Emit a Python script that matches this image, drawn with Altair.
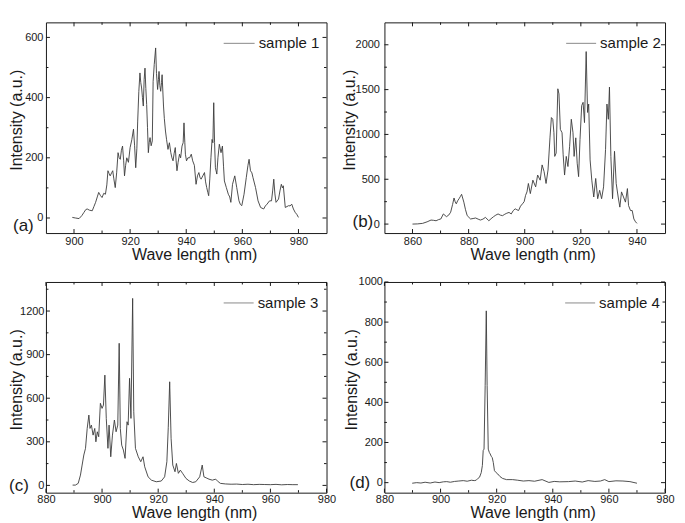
import altair as alt
import pandas as pd

# ---------------- data ----------------
wl1 = [
    899.4, 900.5, 901.8, 902.8, 903.5, 904.2, 904.7, 905.5, 906.5, 907.1,
    907.7, 908.3, 908.8, 909.4, 910.0, 910.6, 911.2, 911.7, 912.1, 912.5,
    912.9, 913.4, 913.8, 914.2, 914.7, 915.2, 915.7, 916.1, 916.5, 916.9,
    917.3, 917.7, 918.0, 918.4, 918.8, 919.4, 920.0, 920.6, 921.2, 921.6,
    922.0, 922.4, 922.7, 923.1, 923.5, 923.8, 924.1, 924.4, 924.7, 925.0,
    925.3, 925.6, 925.9, 926.2, 926.5, 926.8, 927.1, 927.5, 927.9, 928.2,
    928.6, 929.1, 929.4, 929.8, 930.1, 930.3, 930.6, 930.9, 931.2, 931.4,
    931.9, 932.2, 932.6, 933.0, 933.5, 934.0, 934.5, 934.9, 935.3, 935.7,
    936.1, 936.4, 936.7, 937.1, 937.6, 938.0, 938.5, 938.9, 939.2, 939.5,
    939.7, 940.1, 940.6, 941.2, 941.8, 942.3, 942.9, 943.5, 944.0, 944.5,
    944.9, 945.3, 945.9, 946.5, 946.9, 947.3, 947.7, 948.0, 948.4, 948.8,
    949.2, 949.5, 949.8, 950.1, 950.4, 950.9, 951.3, 951.8, 952.4, 952.9,
    953.3, 953.6, 954.3, 955.0, 955.5, 955.9, 956.5, 957.3, 958.0, 958.8,
    959.3, 959.8, 960.6, 961.4, 962.0, 962.4, 962.9, 963.4, 963.8, 964.7,
    965.6, 966.5, 967.6, 968.2, 968.8, 969.7, 970.4, 970.8, 971.2, 971.6,
    972.0, 972.9, 973.4, 973.9, 974.3, 974.6, 975.3, 976.5, 977.0, 977.6,
    978.2, 978.8, 979.4, 980.0]
int1 = [
    2, 0, -2, 8, 18, 28, 30, 26, 24, 38,
    52, 70, 85, 75, 68, 82, 79, 110, 157, 148,
    140, 150, 157, 130, 101, 150, 217, 200, 195, 225,
    239, 190, 140, 175, 200, 185, 234, 260, 295, 240,
    167, 230, 322, 420, 482, 450, 432, 400, 372, 460,
    498, 430, 377, 300, 217, 250, 267, 240, 256, 454,
    510, 565, 480, 427, 460, 487, 440, 421, 450, 476,
    372, 330, 289, 260, 228, 250, 217, 200, 190, 215,
    234, 190, 157, 185, 212, 200, 239, 250, 316, 250,
    212, 190, 200, 200, 212, 190, 175, 112, 140, 151,
    135, 129, 140, 151, 120, 101, 85, 74, 130, 200,
    261, 250, 383, 250, 167, 146, 200, 245, 217, 239,
    170, 123, 101, 79, 70, 52, 112, 140, 101, 57,
    45, 41, 79, 134, 175, 195, 157, 150, 134, 101,
    57, 35, 30, 40, 46, 57, 57, 90, 129, 80,
    52, 63, 90, 112, 100, 107, 35, 41, 40, 46,
    30, 19, 12, 2]

wl2 = [
    860.0, 861.8, 863.6, 865.2, 866.6, 867.5, 868.4, 869.3, 870.1, 871.0,
    872.1, 872.9, 873.6, 874.3, 874.8, 875.2, 875.6, 876.1, 876.6, 877.1,
    877.5, 878.3, 878.9, 879.5, 880.7, 881.6, 882.5, 883.4, 884.2, 885.1,
    886.0, 887.2, 888.0, 888.9, 889.7, 890.5, 891.3, 892.1, 892.9, 893.6,
    894.4, 895.2, 895.9, 896.6, 897.2, 897.8, 898.5, 899.2, 899.8, 900.3,
    900.8, 901.3, 902.0, 902.9, 903.9, 904.6, 905.5, 906.2, 906.9, 907.6,
    908.3, 909.0, 909.5, 910.0, 910.4, 910.7, 911.2, 911.8, 912.2, 912.7,
    913.3, 913.7, 914.2, 914.8, 915.4, 916.0, 916.6, 917.2, 917.6, 918.2,
    918.7, 919.2, 919.7, 920.3, 920.8, 921.3, 921.9, 922.4, 922.8, 923.3,
    923.9, 924.6, 925.3, 926.0, 926.7, 927.4, 928.1, 928.8, 929.3, 929.8,
    930.2, 930.7, 931.3, 932.0, 932.6, 933.3, 933.9, 934.5, 935.2, 935.9,
    936.6, 937.0, 937.7, 938.3, 938.9, 939.5, 940.0]
int2 = [
    0, 2, 8, 25, 45, 42, 37, 50, 57, 113,
    83, 100, 132, 220, 291, 250, 226, 260, 283, 310,
    332, 245, 160, 94, 57, 62, 68, 55, 45, 55,
    75, 37, 60, 83, 100, 113, 100, 94, 110, 121,
    130, 113, 150, 170, 160, 151, 200, 226, 250, 320,
    359, 453, 340, 490, 415, 547, 490, 660, 585, 453,
    603, 962, 1188, 1169, 1019, 755, 792, 1509, 1452, 1056,
    1019, 773, 547, 755, 642, 868, 1169, 1019, 755, 962,
    679, 529, 943, 1321, 1358, 1132, 1924, 1245, 1339, 716,
    490, 302, 509, 283, 377, 283, 415, 830, 1339, 1169,
    1528, 755, 283, 812, 453, 302, 189, 359, 302, 245,
    396, 207, 151, 151, 57, 25, 8]

wl3 = [
    889.5, 890.5, 891.5, 892.3, 892.9, 893.5, 894.1, 894.7, 895.3, 895.7,
    896.2, 896.8, 897.4, 897.8, 898.3, 898.8, 899.4, 900.0, 900.5, 901.0,
    901.5, 902.1, 902.5, 903.1, 903.7, 904.4, 905.0, 905.6, 906.1, 906.5,
    907.0, 907.6, 908.2, 908.9, 909.3, 909.8, 910.3, 910.9, 911.3, 911.9,
    912.9, 913.8, 914.6, 915.2, 916.4, 917.6, 919.3, 921.1, 922.3, 923.1,
    923.6, 924.1, 924.6, 925.2, 926.0, 926.5, 927.2, 927.9, 928.7, 929.9,
    931.1, 932.3, 933.4, 934.8, 935.7, 936.3, 937.1, 938.1, 939.3, 940.5,
    941.4, 942.2, 944.0, 946.0, 948.0, 950.0, 952.0, 954.0, 956.0, 958.0,
    960.0, 962.0, 964.0, 966.0, 968.0, 969.8]
int3 = [
    2, 2, 14, 71, 140, 209, 255, 392, 484, 392,
    415, 346, 392, 300, 369, 335, 565, 530, 553, 759,
    461, 255, 415, 197, 346, 450, 369, 415, 978, 392,
    277, 243, 186, 438, 415, 737, 461, 1287, 507, 255,
    197, 163, 197, 128, 59, 36, 25, 30, 59, 163,
    400, 713, 324, 140, 94, 151, 83, 105, 83, 48,
    30, 20, 25, 59, 140, 59, 52, 43, 36, 43,
    25, 14, 10, 8, 9, 6, 8, 5, 7, 6,
    5, 7, 4, 6, 5, 5]

wl4 = [
    889.9, 891.5, 893.0, 894.5, 896.3, 898.0, 899.5, 901.0, 902.2, 903.5,
    905.0, 906.5, 908.1, 909.5, 911.0, 912.0, 912.7, 913.4, 913.9, 914.5,
    914.9, 915.2, 915.5, 915.9, 916.3, 916.6, 917.0, 917.4, 917.7, 918.1,
    918.4, 918.8, 919.2, 919.8, 920.4, 921.2, 922.1, 923.5, 925.7, 927.5,
    929.5, 931.5, 933.5, 936.2, 938.6, 940.5, 942.5, 945.6, 948.0, 950.5,
    952.6, 955.0, 957.0, 958.5, 960.0, 962.5, 965.0, 967.5, 970.0]
int4 = [
    -3, 0, -2, 2, -2, 3, 0, 4, 5, 2,
    6, 8, 10, 7, 12, 10, 12, 22, 27, 50,
    85, 160, 167, 483, 856, 483, 167, 150, 143, 130,
    126, 100, 60, 50, 43, 30, 21, 15, 15, 12,
    8, 10, 7, 15, 1, 6, 4, 5, 8, 3,
    10, 6, 8, 15, 5, 9, 8, 5, -3]

samples = ["sample 1", "sample 2", "sample 3", "sample 4"]
tags = ["(a)", "(b)", "(c)", "(d)"]

x_domains = [[890, 990], [850, 950], [880, 980], [880, 980]]
y_domains = [[-50, 650], [-100, 2250], [-50, 1400], [-50, 1000]]
x_major = [[900, 920, 940, 960, 980], [860, 880, 900, 920, 940],
           [880, 900, 920, 940, 960, 980], [880, 900, 920, 940, 960, 980]]
x_minor = [[910, 930, 950, 970], [870, 890, 910, 930],
           [890, 910, 930, 950, 970], [890, 910, 930, 950, 970]]
y_major = [[0, 200, 400, 600], [0, 500, 1000, 1500, 2000],
           [0, 300, 600, 900, 1200], [0, 200, 400, 600, 800, 1000]]
y_minor = [[100, 300, 500], [250, 750, 1250, 1750],
           [150, 450, 750, 1050, 1350], [100, 300, 500, 700, 900]]

# ---------------- layout / style ----------------
W, H = 281, 211
FONT = "Liberation Sans"
INK = "#1a1a1a"
tag_pos = [(-33, 204), (-32, 200), (-37, 204), (-35, 201)]
ylab_pad = [3, 5, 2, 2]
ytitle_x = [-21, -27, -21, -25]
xlab_pad = [2, 2, 1, 1]
xtitle_pad = [0, 0, 0, 0]
legend_x = [(178, 209, 213), (182, 212, 216), (178, 208, 212), (181, 211, 215)]


def panel(i, wl, vals):
    df = pd.DataFrame({"wl": wl, "I": vals})
    xs = alt.Scale(domain=x_domains[i], nice=False, zero=False)
    ys = alt.Scale(domain=y_domains[i], nice=False, zero=False)
    xaxis = alt.Axis(
        values=x_major[i], title="Wave length (nm)", ticks=False, domain=False,
        grid=False, labelFlush=False, labelOverlap=False, format="d",
        labelPadding=xlab_pad[i], titlePadding=xtitle_pad[i], titleX=W / 2 + 8)
    yaxis = alt.Axis(
        values=y_major[i], title="Intensity (a.u.)", ticks=False, domain=False,
        grid=False, labelOverlap=False, format="d", labelPadding=ylab_pad[i],
        titleX=ytitle_x[i], titleY=H / 2 - 8)

    line = alt.Chart(df).mark_line(color="#3c3c3c", strokeWidth=0.9, clip=True).encode(
        x=alt.X("wl:Q", scale=xs, axis=xaxis),
        y=alt.Y("I:Q", scale=ys, axis=yaxis),
    )

    layers = [line]
    # inward ticks on all four sides (major and minor)
    for vals_, L in ((x_major[i], 4), (x_minor[i], 2.5)):
        d = pd.DataFrame({"wl": vals_})
        for y0, y1 in ((H, H - L), (0, L)):
            layers.append(
                alt.Chart(d).mark_rule(color=INK, strokeWidth=1).encode(
                    x=alt.X("wl:Q", scale=xs, axis=xaxis),
                    y=alt.value(y0), y2=alt.value(y1)))
    for vals_, L in ((y_major[i], 4), (y_minor[i], 2.5)):
        d = pd.DataFrame({"I": vals_})
        for x0, x1 in ((0, L), (W, W - L)):
            layers.append(
                alt.Chart(d).mark_rule(color=INK, strokeWidth=1).encode(
                    y=alt.Y("I:Q", scale=ys, axis=yaxis),
                    x=alt.value(x0), x2=alt.value(x1)))

    lx1, lx2, tx = legend_x[i]
    lab = pd.DataFrame({"t": [samples[i]]})
    layers.append(alt.Chart(lab).mark_rule(color="#8a8a8a", strokeWidth=1).encode(
        x=alt.value(lx1), x2=alt.value(lx2), y=alt.value(21)))
    layers.append(alt.Chart(lab).mark_text(
        align="left", baseline="middle", fontSize=15, font=FONT, color=INK).encode(
        text="t:N", x=alt.value(tx), y=alt.value(21)))
    tg = pd.DataFrame({"t": [tags[i]]})
    layers.append(alt.Chart(tg).mark_text(
        align="left", baseline="middle", fontSize=17, font=FONT, color=INK).encode(
        text="t:N", x=alt.value(tag_pos[i][0]), y=alt.value(tag_pos[i][1])))
    return alt.layer(*layers).properties(width=W, height=H)


panels = [panel(0, wl1, int1), panel(1, wl2, int2), panel(2, wl3, int3), panel(3, wl4, int4)]

chart = alt.concat(
    *panels, columns=2, spacing={"row": 49, "column": 58}, bounds="flush"
).properties(
    padding={"left": 0, "top": 13, "right": 2, "bottom": 0}
).configure(font=FONT).configure_view(
    stroke=INK, strokeWidth=1
).configure_axis(
    labelFont=FONT, titleFont=FONT, labelFontSize=11, titleFontSize=16,
    labelColor=INK, titleColor=INK, titleFontWeight="normal"
)

chart.save("out.html", embed_options={"renderer": "svg", "actions": False})
